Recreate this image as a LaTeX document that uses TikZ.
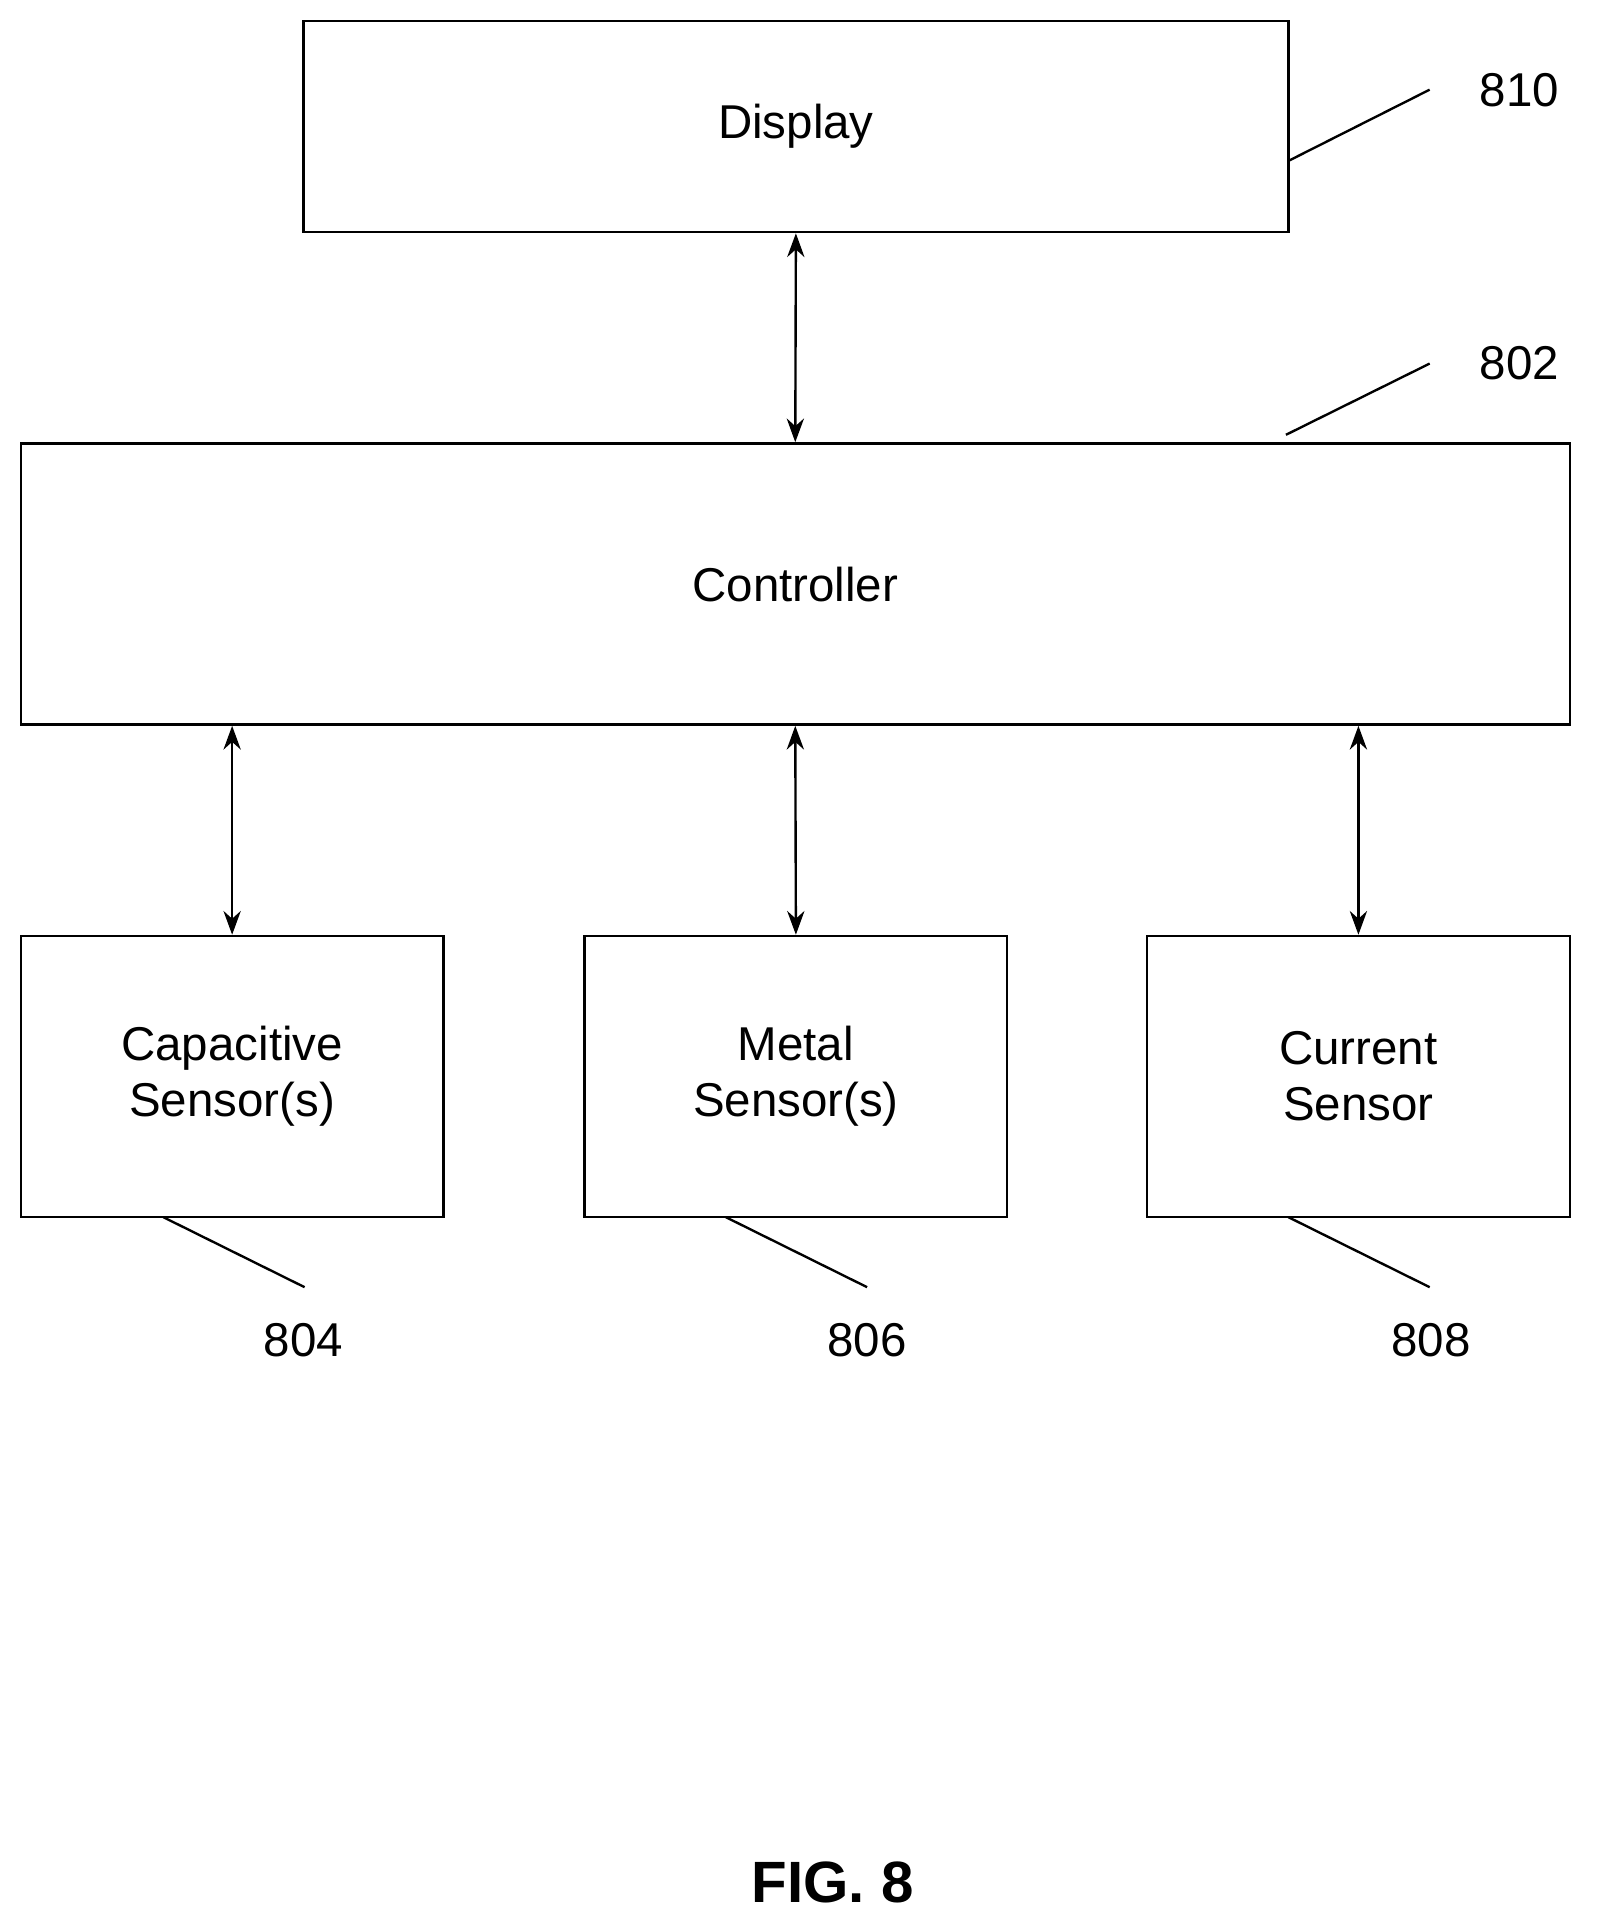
\documentclass[tikz,border=0pt]{standalone}
\usepackage{fontspec}
\setmainfont{Liberation Sans}
\usetikzlibrary{arrows.meta}

\begin{document}
\begin{tikzpicture}[
  x=0.02cm, y=-0.02cm,
  >={Stealth[length=11pt,width=8pt]},
  box/.style={draw, line width=1.1pt, inner sep=0pt, font=\fontsize{22}{26}\selectfont, align=center},
  link/.style={<->, line width=1.1pt},
  lead/.style={line width=1.1pt},
  refnum/.style={font=\fontsize{22}{26}\selectfont}
]
\useasboundingbox (0,0) rectangle (1300,1573);

% boxes
\node[box, minimum width=802*0.02cm, minimum height=172*0.02cm] (Display) at (648,103) {Display};
\node[box, minimum width=1261*0.02cm, minimum height=229*0.02cm] (Ctrl) at (647.5,475.5) {Controller};
\node[box, minimum width=344*0.02cm, minimum height=229*0.02cm] (Cap) at (189,876.5) {Capacitive\\Sensor(s)};
\node[box, minimum width=344*0.02cm, minimum height=229*0.02cm] (Metal) at (648,876.5) {Metal\\Sensor(s)};
\node[box, minimum width=344*0.02cm, minimum height=229*0.02cm] (Curr) at (1106,876.5) {Current\\Sensor};

% reference numerals
\node[refnum] (N810) at (1237,73) {810};
\node[refnum] (N802) at (1237,296) {802};
\node[refnum] (N804) at (247,1091) {804};
\node[refnum] (N806) at (706,1091) {806};
\node[refnum] (N808) at (1165,1091) {808};
\node[font=\fontsize{27}{32}\selectfont\bfseries] (Fig) at (678,1533) {FIG. 8};

% connectors
\draw[link] (Display.south) -- (Ctrl.north);
\draw[link] (Ctrl.south -| Cap.north) -- (Cap.north);
\draw[link] (Ctrl.south) -- (Metal.north);
\draw[link] (Ctrl.south -| Curr.north) -- (Curr.north);

% leaders
\coordinate (L810) at (1164,73);
\coordinate (L802) at (1164,296);
\coordinate (L804) at (248,1048);
\coordinate (L806) at (706,1048);
\coordinate (L808) at (1164,1048);
\draw[lead] (1049,131) -- (L810);
\draw[lead] (1047,354) -- (L802);
\draw[lead] (133,991) -- (L804);
\draw[lead] (591,991) -- (L806);
\draw[lead] (1049,991) -- (L808);
\end{tikzpicture}
\end{document}
